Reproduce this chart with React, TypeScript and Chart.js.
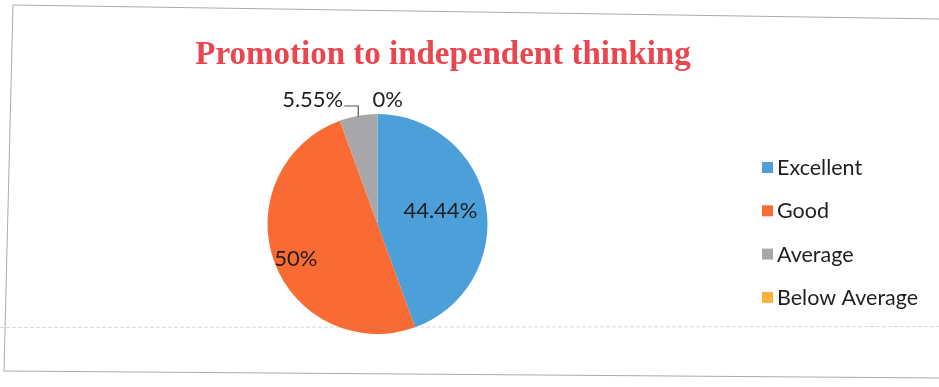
import React, { useEffect, useRef } from "react";
import { Chart, registerables } from "chart.js";

Chart.register(...registerables);

const categories = ["Excellent", "Good", "Average", "Below Average"];
const values = [44.44, 50, 5.55, 0];
const valueLabels = ["44.44%", "50%", "5.55%", "0%"];
const colors = ["#4c9fd9", "#fa6a33", "#a7a7aa", "#fbb13c"];
const titleText = "Promotion to independent thinking";

const FONT = "Lato, 'Open Sans', sans-serif";

const decorPlugin = {
  id: "decor",
  beforeDraw(chart: any) {
    const ctx = chart.ctx;
    ctx.save();
    ctx.fillStyle = "#ffffff";
    ctx.fillRect(0, 0, chart.width, chart.height);
    // scanned frame
    ctx.strokeStyle = "#ababab";
    ctx.lineWidth = 1;
    ctx.beginPath();
    ctx.moveTo(940, 19);
    ctx.lineTo(13, 5);
    ctx.lineTo(4, 371);
    ctx.lineTo(940, 378);
    ctx.stroke();
    ctx.restore();
  },
  afterDraw(chart: any) {
    const ctx = chart.ctx;
    ctx.save();
    // faint scan line
    ctx.strokeStyle = "rgba(150,150,150,0.35)";
    ctx.lineWidth = 1;
    ctx.setLineDash([4, 2]);
    ctx.beginPath();
    ctx.moveTo(0, 327.5);
    ctx.lineTo(939, 326.5);
    ctx.stroke();
    ctx.setLineDash([]);

    // title
    ctx.fillStyle = "#e9464f";
    ctx.font = "bold 33px 'Liberation Serif', 'DejaVu Serif', serif";
    ctx.textAlign = "center";
    ctx.textBaseline = "middle";
    ctx.fillText(titleText, 443, 55);

    // data labels
    const meta = chart.getDatasetMeta(0);
    ctx.fillStyle = "#1f1f1f";
    ctx.font = `22px ${FONT}`;
    const arcs = meta.data;
    const mid = (a: any) => (a.startAngle + a.endAngle) / 2;
    // inside labels
    const inside = [
      { i: 0, f: 0.58, dx: 0, dy: -2 },
      { i: 1, f: 0.79, dx: 0, dy: 5 },
    ];
    inside.forEach(({ i, f, dx, dy }) => {
      const a = arcs[i];
      const ang = mid(a);
      const r = a.outerRadius * f;
      ctx.textAlign = "center";
      ctx.textBaseline = "middle";
      ctx.fillText(valueLabels[i], a.x + Math.cos(ang) * r + dx, a.y + Math.sin(ang) * r + dy);
    });
    // outside label for Average with leader line
    {
      const a = arcs[2];
      const ang = mid(a);
      const ex = a.x + Math.cos(ang) * (a.outerRadius + 1);
      const ey = a.y + Math.sin(ang) * (a.outerRadius + 1);
      ctx.strokeStyle = "#555";
      ctx.lineWidth = 1.2;
      ctx.beginPath();
      ctx.moveTo(ex, ey + 2);
      ctx.lineTo(ex, 106);
      ctx.lineTo(ex - 14, 106);
      ctx.stroke();
      ctx.textAlign = "right";
      ctx.textBaseline = "middle";
      ctx.fillText(valueLabels[2], ex - 15, 100);
    }
    // outside label for Below Average
    {
      const a = arcs[3];
      const ang = a.startAngle;
      const ex = a.x + Math.cos(ang) * a.outerRadius;
      ctx.textAlign = "left";
      ctx.textBaseline = "middle";
      ctx.fillText(valueLabels[3], ex - 5, 100);
    }

    // legend
    ctx.font = `21.5px ${FONT}`;
    categories.forEach((c, i) => {
      const y = 168 + i * 43.3;
      ctx.fillStyle = colors[i];
      ctx.fillRect(762, y - 6, 11, 11);
      ctx.fillStyle = "#1f1f1f";
      ctx.textAlign = "left";
      ctx.textBaseline = "middle";
      ctx.fillText(c, 777, y);
    });
    ctx.restore();
  },
};

export default function App() {
  const ref = useRef<HTMLCanvasElement | null>(null);
  useEffect(() => {
    if (!ref.current) return;
    const chart = new Chart(ref.current, {
      type: "pie",
      data: {
        labels: categories,
        datasets: [
          {
            data: values,
            backgroundColor: colors,
            borderWidth: 0,
          },
        ],
      },
      options: {
        responsive: false,
        animation: false,
        layout: { padding: { top: 114, bottom: 53, left: 267, right: 451 } },
        plugins: {
          legend: { display: false },
          title: { display: false },
          tooltip: { enabled: false },
        },
      },
      plugins: [decorPlugin],
    });
    return () => chart.destroy();
  }, []);
  return (
    <div style={{ position: "fixed", left: 0, top: 0, width: 939, height: 387, background: "#fff" }}>
      <canvas ref={ref} width={939} height={387} />
    </div>
  );
}
